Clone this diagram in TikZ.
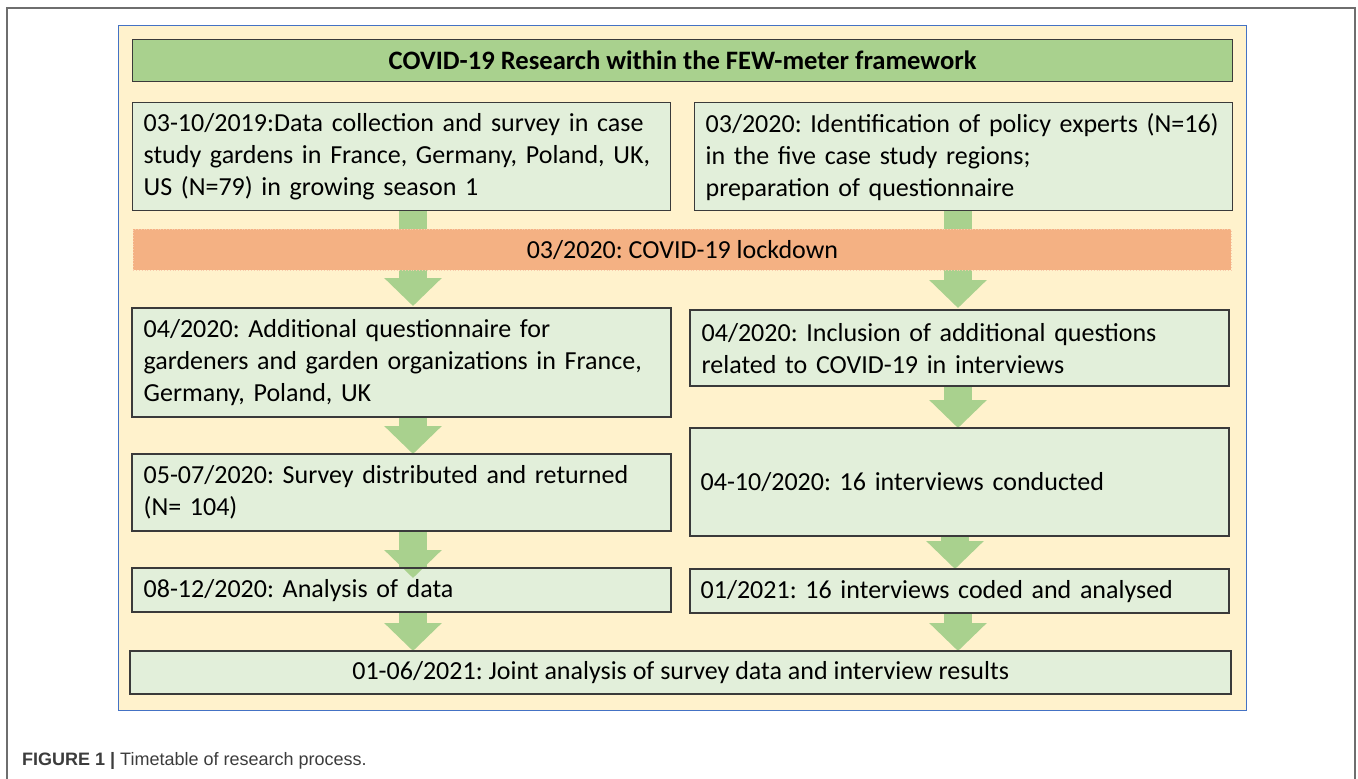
\documentclass[tikz,border=0pt]{standalone}
\usepackage{fontspec}
\setmainfont{Carlito}
\newfontfamily\capfont{Liberation Sans}
\usetikzlibrary{arrows.meta}
\definecolor{panelfill}{HTML}{FFF2CC}
\definecolor{panelline}{HTML}{4472C4}
\definecolor{titlefill}{HTML}{A9D18E}
\definecolor{boxfill}{HTML}{E2EFDA}
\definecolor{boxline}{HTML}{3A3A3A}
\definecolor{lockfill}{HTML}{F4B183}
\definecolor{lockline}{HTML}{F8CBAD}
\definecolor{arrowgreen}{HTML}{A9D18E}
\definecolor{framegray}{HTML}{6E6E6E}
\definecolor{captext}{HTML}{3C3C3C}
\frenchspacing
\tikzset{
  stepbox/.style={draw=boxline, line width=1.3pt, fill=boxfill, anchor=north west,
    inner xsep=11pt, inner ysep=0pt, align=left,
    font=\frenchspacing\fontsize{26}{32}\selectfont, text=black},
  flowarrow/.style={draw=arrowgreen, line width=28pt,
    -{Triangle[width=56pt,length=28pt]}},
  stem/.style={draw=arrowgreen, line width=28pt},
}
\begin{document}
\begin{tikzpicture}[x=1pt,y=-1pt]
\useasboundingbox (0,0) rectangle (1358,779);
% outer frame
\draw[framegray, line width=1.6pt] (7,779) -- (7,8) -- (1355,8) -- (1355,779);
% panel
\node[draw=panelline, line width=1.3pt, fill=panelfill, anchor=north west,
  minimum width=1128pt, minimum height=685pt, inner sep=0pt] (panel) at (118,25) {};
% title
\node[draw=boxline, line width=1.3pt, fill=titlefill, anchor=north west,
  minimum width=1100pt, minimum height=42pt, inner sep=0pt,
  font=\bfseries\fontsize{26.6}{30}\selectfont] (title) at (132,39)
  {COVID-19 Research within the FEW-meter framework};

% coordinates for arrow columns
\coordinate (lx) at (413,0);
\coordinate (rx) at (958,0);

% arrow stems behind lockdown band
\draw[flowarrow] (413,211) -- (413,306);
\draw[flowarrow] (958,211) -- (958,308);

% lockdown band
\node[draw=lockline, dotted, line width=0.8pt, fill=lockfill, anchor=north west,
  minimum width=1098pt, minimum height=41pt, inner sep=0pt,
  font=\frenchspacing\fontsize{26}{30}\selectfont] (lock) at (133,229) {03/2020: COVID-19 lockdown};

% row 1
\node[stepbox, text width=516pt, minimum height=108pt] (b1) at (132,102)
  {03-10/2019:Data collection and survey in case\\study gardens in France, Germany, Poland, UK,\\US (N=79) in growing season 1};
\node[stepbox, text width=516pt, minimum height=108pt] (b2) at (694,102)
  {03/2020: Identification of policy experts (N=16)\\in the five case study regions;\\preparation of questionnaire};

% row 2
\node[stepbox, text width=516pt, minimum height=108pt] (b3) at (132,308)
  {04/2020: Additional questionnaire for\\gardeners and garden organizations in France,\\Germany, Poland, UK};
\node[stepbox, text width=516pt, minimum height=75pt] (b4) at (690,310)
  {04/2020: Inclusion of additional questions\\related to COVID-19 in interviews};

% row 3
\node[stepbox, text width=516pt, minimum height=76pt] (b5) at (132,454)
  {05-07/2020: Survey distributed and returned\\(N= 104)};
\node[stepbox, text width=518pt, minimum height=107pt, inner xsep=10pt] (b6) at (690,428)
  {04-10/2020: 16 interviews conducted};

% row 4
\node[stepbox, text width=516pt, minimum height=43pt] (b7) at (132,568)
  {08-12/2020: Analysis of data};
\node[stepbox, text width=518pt, minimum height=43pt, inner xsep=10pt] (b8) at (690,569)
  {01/2021: 16 interviews coded and analysed};

% final
\node[draw=boxline, line width=1.3pt, fill=boxfill, anchor=north west,
  minimum width=1100pt, minimum height=42pt, inner sep=0pt,
  font=\frenchspacing\fontsize{26}{30}\selectfont] (b9) at (130,651)
  {01-06/2021: Joint analysis of survey data and interview results};

% arrows between boxes
\draw[flowarrow] (b3.south -| lx) -- (b5.north -| lx);
\draw[flowarrow] (b4.south -| rx) -- (b6.north -| rx);
\draw[stem] ([yshift=-0.7pt]b5.south -| lx) -- ([yshift=0.7pt]b7.north -| lx);
\draw[flowarrow] (b5.south -| lx) -- ([yshift=-10pt]b7.north -| lx);
\draw[flowarrow] ([xshift=-3pt]b6.south -| rx) -- ([xshift=-3pt]b8.north -| rx);
\draw[flowarrow] (b7.south -| lx) -- (b9.north -| lx);
\draw[flowarrow] (b8.south -| rx) -- (b9.north -| rx);

% redraw box borders over arrow ends
\foreach \n in {b3,b4,b5,b6,b7,b8,b9}{
  \draw[boxline, line width=1.3pt] (\n.north west) rectangle (\n.south east);
}

% caption
\node[anchor=base west, inner sep=0pt, text=captext,
  font=\capfont\fontsize{18}{22}\selectfont] (cap) at (22,765)
  {\textbf{FIGURE 1 |} Timetable of research process.};
\end{tikzpicture}
\end{document}
